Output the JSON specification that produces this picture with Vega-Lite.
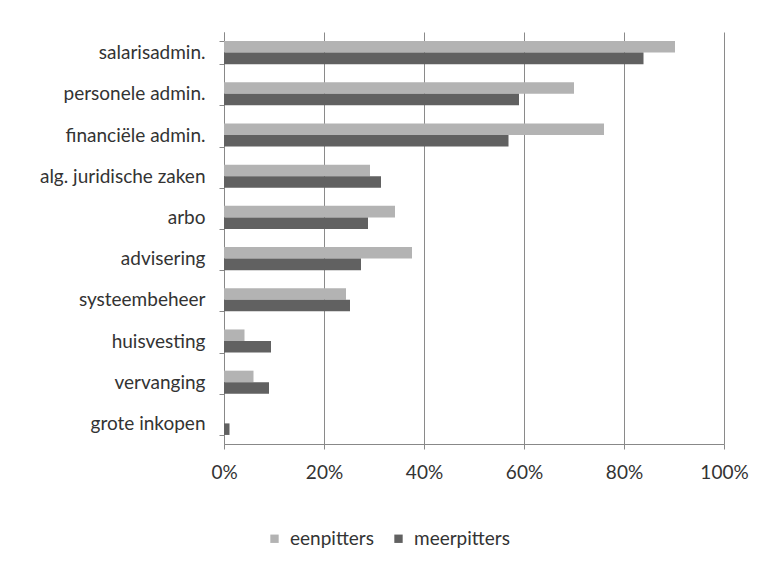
{
  "$schema": "https://vega.github.io/schema/vega-lite/v6.json",
  "width": 500,
  "height": 412,
  "autosize": {"type": "none"},
  "padding": {"left": 224, "top": 32, "right": 37, "bottom": 122},
  "background": "white",
  "config": {
    "view": {"stroke": null},
    "font": "Lato",
    "axis": {"labelFont": "Lato", "labelFontSize": 19, "labelColor": "#333333"},
    "legend": {"labelFont": "Lato", "labelFontSize": 19, "labelColor": "#333333"}
  },
  "data": {
    "values": [
      {"cat": "salarisadmin.", "serie": "eenpitters", "v": 0.902},
      {"cat": "salarisadmin.", "serie": "meerpitters", "v": 0.839},
      {"cat": "personele admin.", "serie": "eenpitters", "v": 0.700},
      {"cat": "personele admin.", "serie": "meerpitters", "v": 0.590},
      {"cat": "financiële admin.", "serie": "eenpitters", "v": 0.760},
      {"cat": "financiële admin.", "serie": "meerpitters", "v": 0.569},
      {"cat": "alg. juridische zaken", "serie": "eenpitters", "v": 0.292},
      {"cat": "alg. juridische zaken", "serie": "meerpitters", "v": 0.314},
      {"cat": "arbo", "serie": "eenpitters", "v": 0.342},
      {"cat": "arbo", "serie": "meerpitters", "v": 0.288},
      {"cat": "advisering", "serie": "eenpitters", "v": 0.376},
      {"cat": "advisering", "serie": "meerpitters", "v": 0.274},
      {"cat": "systeembeheer", "serie": "eenpitters", "v": 0.244},
      {"cat": "systeembeheer", "serie": "meerpitters", "v": 0.252},
      {"cat": "huisvesting", "serie": "eenpitters", "v": 0.041},
      {"cat": "huisvesting", "serie": "meerpitters", "v": 0.094},
      {"cat": "vervanging", "serie": "eenpitters", "v": 0.059},
      {"cat": "vervanging", "serie": "meerpitters", "v": 0.090},
      {"cat": "grote inkopen", "serie": "eenpitters", "v": 0.0},
      {"cat": "grote inkopen", "serie": "meerpitters", "v": 0.011}
    ]
  },
  "mark": {"type": "bar"},
  "encoding": {
    "y": {
      "field": "cat",
      "type": "nominal",
      "sort": null,
      "scale": {"paddingInner": 0.44, "paddingOuter": 0.22},
      "axis": {
        "title": null,
        "tickBand": "extent",
        "ticks": true,
        "tickSize": 5,
        "tickColor": "#888888",
        "domainColor": "#888888",
        "labelPadding": 14,
        "grid": false
      }
    },
    "yOffset": {"field": "serie", "type": "nominal", "sort": ["eenpitters", "meerpitters"]},
    "x": {
      "field": "v",
      "type": "quantitative",
      "scale": {"domain": [0, 1], "nice": false},
      "axis": {
        "title": null,
        "format": ".0%",
        "values": [0, 0.2, 0.4, 0.6, 0.8, 1],
        "labelFlush": false,
        "grid": true,
        "gridColor": "#8a8a8a",
        "tickColor": "#888888",
        "domainColor": "#888888",
        "tickSize": 5,
        "labelPadding": 14
      }
    },
    "color": {
      "field": "serie",
      "type": "nominal",
      "scale": {"domain": ["eenpitters", "meerpitters"], "range": ["#b3b3b3", "#616161"]},
      "legend": {
        "title": null,
        "orient": "none",
        "direction": "horizontal",
        "legendX": 41,
        "legendY": 497,
        "symbolType": "square",
        "symbolSize": 70,
        "symbolStrokeWidth": 0,
        "labelOffset": 6,
        "columnPadding": 15
      }
    }
  }
}
